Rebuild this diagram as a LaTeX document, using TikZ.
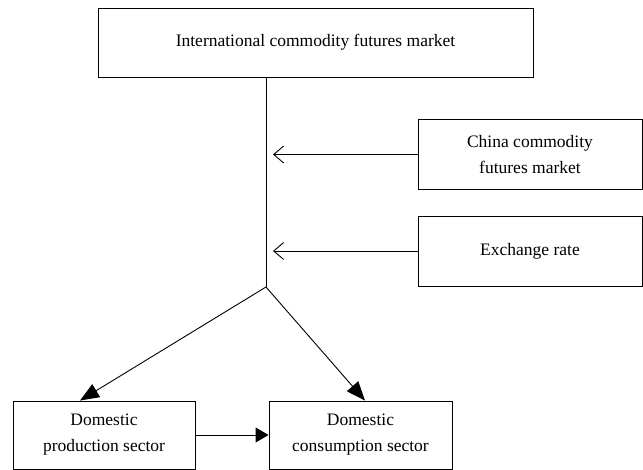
\documentclass[tikz,border=0pt]{standalone}
\usepackage{fontspec}
\setmainfont{Liberation Serif}
\usetikzlibrary{arrows.meta}
\tikzset{
   box/.style={draw, line width=0.9pt, align=center, inner sep=0pt,
      font=\fontsize{17.5}{26}\selectfont},
   feed/.style={-{Straight Barb[length=10pt,width=17pt]}, line width=0.9pt, shorten >=7pt},
   flow/.style={-{Triangle[length=19pt,width=15pt]}, line width=0.9pt}
}
\begin{document}
\begin{tikzpicture}[x=1pt, y=-1pt]
   \useasboundingbox (0,0) rectangle (643,470);
   \def \Boxes {
      intl/315.5/42.5/435/69/{International commodity futures market},
      china/530/154.5/224/70/{China commodity\\futures market},
      exrate/530/251/224/70/{Exchange rate},
      prod/104/435/182/68/{Domestic\\production sector},
      cons/360.5/435/183/68/{Domestic\\consumption sector}}
   \foreach \u / \x / \y / \w / \h / \t in \Boxes {
      \node[box, minimum width=\w pt, minimum height=\h pt] (\u) at (\x, \y) {\t};
   }
   \coordinate (junc) at (266, 287);
   \path[draw, line width=0.9pt] (intl.south -| junc) -- (junc);
   \foreach \u in {china, exrate} {
      \path[draw, feed] (\u.west) -- (\u.west -| junc);
   }
   \path[draw, flow] (junc) -- ([xshift=-24pt]prod.north);
   \path[draw, flow] (junc) -- ([xshift=4.5pt]cons.north);
   \path[draw, flow, -{Triangle[length=13pt,width=15pt]}] (prod) -- (cons);
\end{tikzpicture}
\end{document}
